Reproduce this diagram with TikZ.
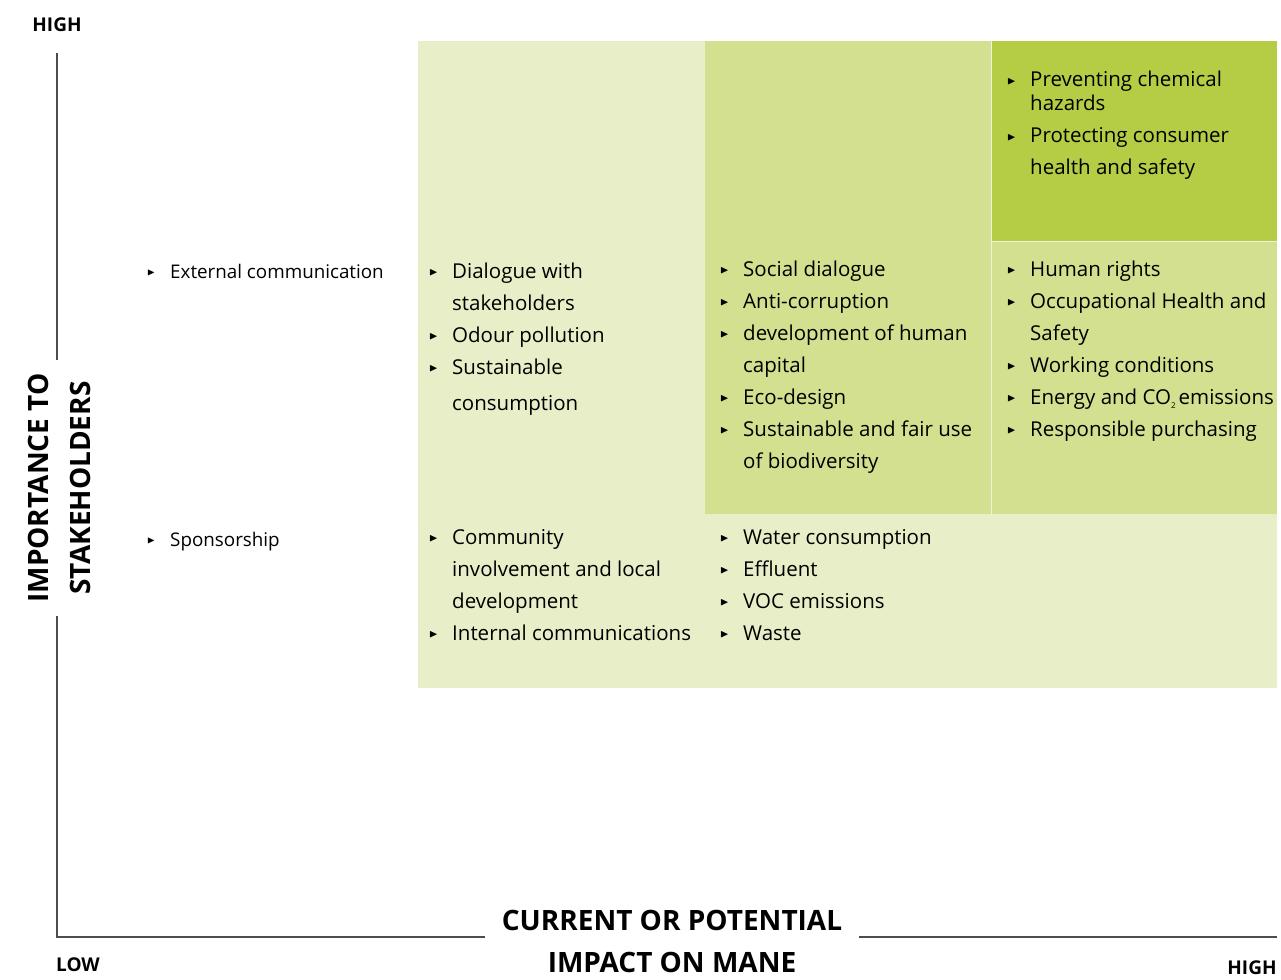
\documentclass[tikz,border=0pt]{standalone}
\usepackage{fontspec}
\setmainfont{Open Sans}
\usepackage{amssymb}
\usetikzlibrary{positioning}

\definecolor{paleleaf}{HTML}{E8EFC8}
\definecolor{midleaf}{HTML}{D3E08F}
\definecolor{leaf}{HTML}{B5CD45}
\definecolor{axisgray}{HTML}{4D4D4D}

\newcommand{\bul}{\raisebox{0.25ex}{\scalebox{0.55}{$\blacktriangleright$}}}
\newcommand{\itemlist}[1]{\begin{tabular}[t]{@{}p{23pt}@{}l@{}}#1\end{tabular}}
\newcommand{\lowtwo}{\raisebox{-0.45ex}{\fontsize{8}{8}\selectfont 2}}

\begin{document}
\begin{tikzpicture}[x=1pt, y=-1pt,
    item/.style={anchor=base west, inner sep=0pt, font=\fontsize{20.5}{32}\selectfont},
    level/.style={font=\bfseries\fontsize{19}{19}\selectfont, inner sep=0pt},
    axistitle/.style={font=\bfseries\fontsize{28}{42}\selectfont, align=center}]
  \useasboundingbox (0,0) rectangle (1281,979);
  % Cells
  \fill[paleleaf] (418,41) rectangle (1277,688);
  \fill[midleaf] (705,41) rectangle (1277,514);
  \fill[leaf] (992,41) rectangle (1277,241);
  \draw[paleleaf!70!white, line width=0.8pt] (991.5,41) -- (991.5,514) (992,241.5) -- (1277,241.5);
  % Axes
  \coordinate (origin) at (57,937);
  \coordinate (ytop) at (57,53);
  \coordinate (xend) at (1277,937);
  \node[axistitle, rotate=90, inner xsep=13pt] (ylab) at (59,488) {IMPORTANCE TO\\STAKEHOLDERS};
  \node[axistitle, inner xsep=17pt] (xlab) at (672,941) {CURRENT OR POTENTIAL\\IMPACT ON MANE};
  \draw[axisgray, line width=1.4pt]
    (ytop) -- (ytop |- ylab.east)
    (origin |- ylab.west) -- (origin)
    -- (origin -| xlab.west)
    (origin -| xlab.east) -- (xend);
  \node[level] (hightop) at (57,25) {HIGH};
  \node[level] (low) at (78,965) {LOW};
  \node[level] (highend) at (1252,968) {HIGH};
  % Items
  \node[item, font=\fontsize{18.8}{32}\selectfont] (a1) at (147,278) {\itemlist{\bul & External communication}};
  \node[item, font=\fontsize{18.8}{32}\selectfont] (a2) at (147,546) {\itemlist{\bul & Sponsorship}};
  \node[item] (b1) at (429,278) {\itemlist{\bul & Dialogue with\\ & stakeholders\\ \bul & Odour pollution\\ \bul & Sustainable\\[4pt] & consumption}};
  \node[item] (b2) at (429,544) {\itemlist{\bul & Community\\ & involvement and local\\ & development\\ \bul & Internal communications}};
  \node[item] (c1) at (720,276) {\itemlist{\bul & Social dialogue\\ \bul & Anti-corruption\\ \bul & development of human\\ & capital\\ \bul & Eco-design\\ \bul & Sustainable and fair use\\ & of biodiversity}};
  \node[item] (c2) at (720,544) {\itemlist{\bul & Water consumption\\ \bul & Effluent\\ \bul & VOC emissions\\ \bul & Waste}};
  \node[item] (d0) at (1007,87) {\itemlist{\bul & Preventing chemical\\[-8pt] & hazards\\ \bul & Protecting consumer\\ & health and safety}};
  \node[item] (d1) at (1007,276) {\itemlist{\bul & Human rights\\ \bul & Occupational Health and\\ & Safety\\ \bul & Working conditions\\ \bul & Energy and CO\lowtwo\hspace{3pt}emissions\\ \bul & Responsible purchasing}};
\end{tikzpicture}
\end{document}
